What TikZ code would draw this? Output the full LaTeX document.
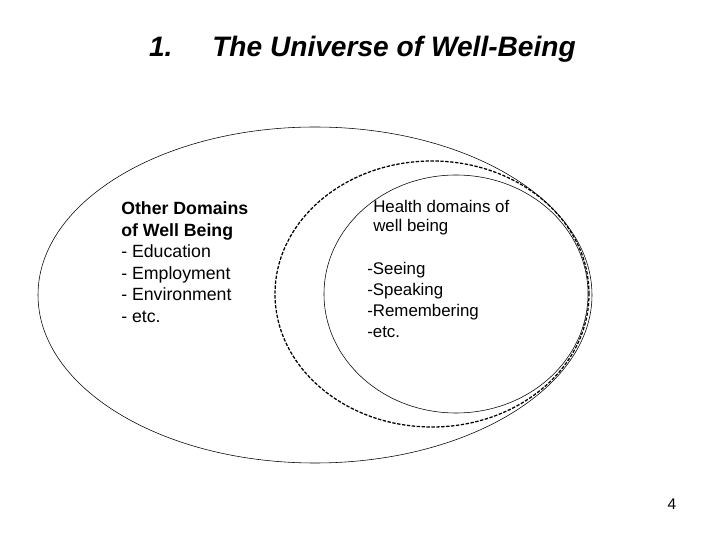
\documentclass[tikz,border=0pt]{standalone}
\usepackage{fontspec}
\setmainfont{Liberation Sans}
\usetikzlibrary{shapes,positioning}

\begin{document}
\begin{tikzpicture}[x=1cm, y=1cm,
    listtext/.style={anchor=north west, inner sep=0pt, align=left},
    titletext/.style={anchor=base west, inner sep=0pt, font=\fontsize{20}{24}\selectfont\bfseries\itshape}]
  \useasboundingbox (0,0) rectangle (18,13.5);
  % Title
  \node[titletext] (num) at (3.72,12.075) {1.};
  \node[titletext] (title) at (5.3,12.075) {The Universe of Well-Being};
  % Ellipses
  \draw[line width=0.4pt] (7.875,6.125) ellipse (6.925 and 4.2);
  \draw[line width=0.9pt, dash pattern=on 2.4pt off 1.1pt] (10.8,6.15) ellipse (3.925 and 3.325);
  \draw[line width=0.4pt] (11.4,6.15) ellipse (3.3 and 2.975);
  % Labels
  \node[listtext, font=\fontsize{12.6}{15.3}\selectfont] (other) at (3.025,8.465)
    {\textbf{Other Domains}\\ \textbf{of Well Being}\\ - Education\\ - Employment\\ - Environment\\ - etc.};
  \node[listtext, font=\fontsize{12}{13.5}\selectfont] (health) at (9.325,8.51)
    {Health domains of\\ well being};
  \node[listtext, font=\fontsize{12}{14.9}\selectfont] (healthlist) at (9.175,6.95)
    {-Seeing\\ -Speaking\\ -Remembering\\ -etc.};
  \node[font=\fontsize{11}{13}\selectfont] (page) at (16.8,0.9) {4};
\end{tikzpicture}
\end{document}
